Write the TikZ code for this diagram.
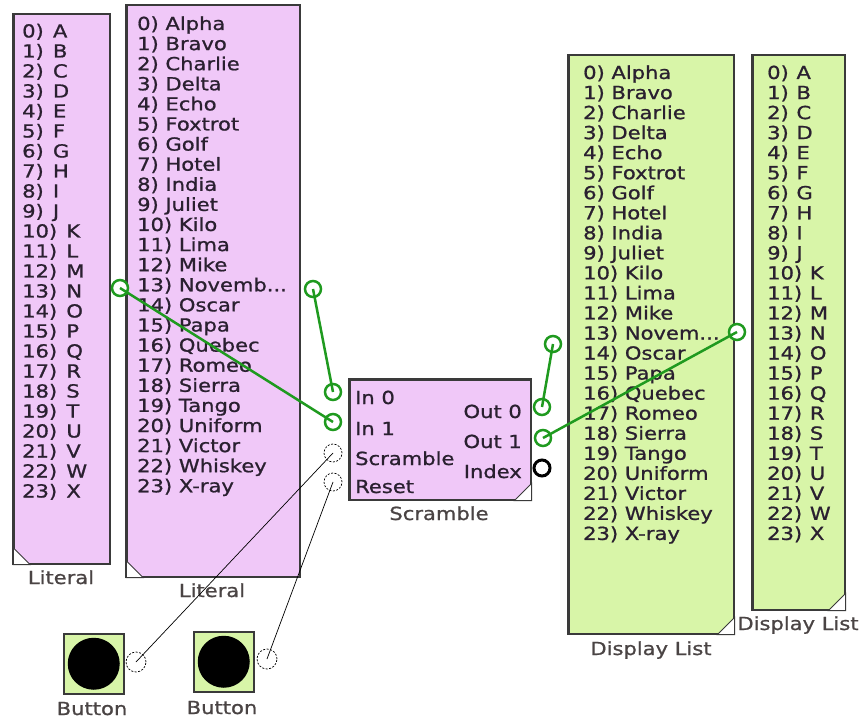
\documentclass[tikz,border=0pt]{standalone}
\usepackage{fontspec}
\newfontfamily\df[FakeStretch=1.17,FakeBold=1]{DejaVu Sans}
\newcommand\tdots{...}
\definecolor{lit}{HTML}{F0C8F8}
\definecolor{dsp}{HTML}{D8F5A8}
\definecolor{wirecol}{HTML}{1F9A1F}
\definecolor{edge}{HTML}{3A3A3A}
\definecolor{txt}{HTML}{2A2030}
\definecolor{lbl}{HTML}{4A4444}
\tikzset{
 box/.style={draw=edge, line width=1.5pt, inner sep=0, anchor=north west},
 litbox/.style={box, fill=lit},
 dspbox/.style={box, fill=dsp},
 item/.style={anchor=base west, inner sep=0, text=txt, font=\df\fontsize{18pt}{20pt}\selectfont},
 itemr/.style={item, anchor=base east},
 capt/.style={anchor=base, inner sep=0, text=lbl, font=\df\fontsize{18pt}{20pt}\selectfont},
 gport/.style={circle, draw=wirecol, line width=2.5pt, fill=white, minimum size=16pt, inner sep=0},
 wport/.style={circle, draw=black, dashed, dash pattern=on 2pt off 1.5pt, line width=0.7pt, fill=white, minimum size=18pt, inner sep=0},
 bport/.style={circle, draw=black, line width=3pt, fill=white, minimum size=16pt, inner sep=0},
 gwire/.style={draw=wirecol, line width=2.5pt},
 bwire/.style={draw=black, line width=0.7pt},
 corner/.style={fill=white, draw=edge, line width=1pt},
}
\begin{document}
\begin{tikzpicture}[x=1pt,y=-1pt]
\useasboundingbox (0,0) rectangle (865,719);
% boxes
\node[litbox, minimum width=96pt, minimum height=549pt] (L1) at (13,14) {};
\node[litbox, minimum width=173pt, minimum height=571pt] (L2) at (126,5) {};
\node[dspbox, minimum width=165pt, minimum height=578pt] (D1) at (568,55) {};
\node[dspbox, minimum width=92pt, minimum height=554pt] (D2) at (752,55) {};
\node[litbox, minimum width=181pt, minimum height=120pt] (S) at (349,379) {};
\node[dspbox, minimum width=60pt, minimum height=60pt] (B1) at (63,633) {};
\node[dspbox, minimum width=60pt, minimum height=60pt] (B2) at (193,631) {};
% corner triangles
\filldraw[corner] (L1.south west) -- ++(17,0) -- ++(-17,-17) -- cycle;
\filldraw[corner] (L2.south west) -- ++(17,0) -- ++(-17,-17) -- cycle;
\filldraw[corner] (D1.south east) -- ++(-17,0) -- ++(17,-17) -- cycle;
\filldraw[corner] (D2.south east) -- ++(-17,0) -- ++(17,-17) -- cycle;
\filldraw[corner] (S.south east) -- ++(-17,0) -- ++(17,-17) -- cycle;
\draw[draw=edge, line width=1.5pt] (L1.south west) rectangle (L1.north east)
  (L2.south west) rectangle (L2.north east)
  (D1.south west) rectangle (D1.north east)
  (D2.south west) rectangle (D2.north east)
  (S.south west) rectangle (S.north east);
% list texts
\foreach \t [count=\i from 0] in {A,B,C,D,E,F,G,H,I,J,K,L,M,N,O,P,Q,R,S,T,U,V,W,X}
  \node[item] (a\i) at (22,37.5+20*\i) {\i)\hspace{2.5pt} \t};
\foreach \t [count=\i from 0] in {Alpha,Bravo,Charlie,Delta,Echo,Foxtrot,Golf,Hotel,India,Juliet,Kilo,Lima,Mike,Novemb\tdots,Oscar,Papa,Quebec,Romeo,Sierra,Tango,Uniform,Victor,Whiskey,X-ray}
  \node[item] (b\i) at (137,30+20.1*\i) {\i) \t};
\foreach \t [count=\i from 0] in {Alpha,Bravo,Charlie,Delta,Echo,Foxtrot,Golf,Hotel,India,Juliet,Kilo,Lima,Mike,Novem\tdots,Oscar,Papa,Quebec,Romeo,Sierra,Tango,Uniform,Victor,Whiskey,X-ray}
  \node[item] (c\i) at (583,79+20.04*\i) {\i) \t};
\foreach \t [count=\i from 0] in {A,B,C,D,E,F,G,H,I,J,K,L,M,N,O,P,Q,R,S,T,U,V,W,X}
  \node[item] (d\i) at (767,79+20.04*\i) {\i)\hspace{1pt} \t};
% captions
\node[capt] (cL1) at (61,584) {Literal};
\node[capt] (cL2) at (212,597) {Literal};
\node[capt] (cS) at (439,520) {Scramble};
\node[capt] (cD1) at (651,655) {Display List};
\node[capt] (cD2) at (798,630) {Display List};
\node[capt] (cB1) at (92,715) {Button};
\node[capt] (cB2) at (222,714) {Button};
% scramble labels
\node[item] (tIn0) at (355,404) {In 0};
\node[item] (tIn1) at (355,435) {In 1};
\node[item] (tScr) at (355,465) {Scramble};
\node[item] (tRes) at (355,493) {Reset};
\node[itemr] (tOut0) at (522,418) {Out 0};
\node[itemr] (tOut1) at (522,448) {Out 1};
\node[itemr] (tIdx) at (522,478) {Index};
% button discs
\fill[black] (B1.center) circle (26pt);
\fill[black] (B2.center) circle (26pt);
% ports
\node[gport] (pA) at (120,288) {};
\node[gport] (pB) at (313,289) {};
\node[gport] (pC) at (553,344) {};
\node[gport] (pD) at (737,332) {};
\node[gport] (in0) at (333,392) {};
\node[gport] (in1) at (333,422) {};
\node[wport] (scr) at (333,453) {};
\node[wport] (rst) at (333,482) {};
\node[gport] (out0) at (542,407) {};
\node[gport] (out1) at (543,438) {};
\node[bport] (idx) at (542,468) {};
\node[wport, minimum size=20pt] (bp1) at (136,662) {};
\node[wport, minimum size=20pt] (bp2) at (267,659) {};
% wires
\draw[gwire] (pA.center) -- (in1.center);
\draw[gwire] (pB.center) -- (in0.center);
\draw[gwire] (out0.center) -- (pC.center);
\draw[gwire] (out1.center) -- (pD.center);
\draw[bwire] (scr.center) -- (bp1.center);
\draw[bwire] (rst.center) -- (bp2.center);
\end{tikzpicture}
\end{document}
